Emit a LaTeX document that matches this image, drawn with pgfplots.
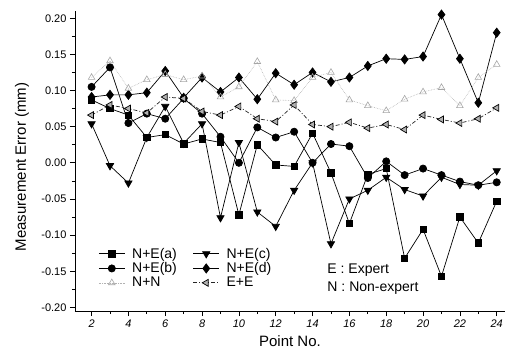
\documentclass[border=0pt]{standalone}
\usepackage{fontspec}
\setmainfont{Liberation Sans}
\usepackage{pgfplots}
\pgfplotsset{compat=1.18}
\begin{document}
\begin{tikzpicture}
\useasboundingbox (-75pt,-40pt) rectangle (430pt,311pt);
\begin{axis}[
  at={(0pt,0pt)}, anchor=south west,
  scale only axis, width=430pt, height=300pt,
  xmin=1.1, xmax=24.45, ymin=-0.205, ymax=0.21,
  axis lines=left, axis line style={-, line width=0.8pt},
  tick align=outside, major tick length=5pt, minor tick length=3pt,
  tick style={line width=0.7pt, black},
  xtick={2,4,...,24},
  xticklabels={2,4,6,8,10,12,14,16,18,20,22,24},
  ytick={-0.20,-0.15,-0.10,-0.05,0,0.05,0.10,0.15,0.20},
  yticklabels={-0.20,-0.15,-0.10,-0.05,0.00,0.05,0.10,0.15,0.20},
  minor x tick num=1, minor y tick num=1,
  xticklabel style={font=\fontsize{11}{13}\selectfont\itshape},
  yticklabel style={font=\fontsize{11}{13}\selectfont},
  xlabel={Point No.}, ylabel={Measurement Error (mm)},
  every axis x label/.style={at={(axis description cs:0.5,-0.1)}, anchor=center, font=\fontsize{15}{17}\selectfont},
  every axis y label/.style={at={(axis description cs:-0.123,0.48)}, anchor=center, rotate=90, font=\fontsize{15}{17}\selectfont},
  clip=false,
  legend columns=2,
  legend cell align=left,
  legend style={at={(axis cs:2.2,-0.112)}, anchor=north west, draw=none, fill=none,
    font=\fontsize{14}{16}\selectfont, column sep=0pt, row sep=-1pt,
    /tikz/every odd column/.append style={column sep=5pt},
    /tikz/every even column/.append style={column sep=14pt}},
  legend image code/.code={\draw[mark repeat=2,mark phase=2,#1] plot coordinates {(0pt,0pt) (13pt,0pt) (26pt,0pt)};},
]
% N+E(a)
\addplot[black, line width=0.7pt, mark=square*, mark size=3.2pt, mark options={solid}] coordinates {
(2,0.087)(3,0.075)(4,0.066)(5,0.035)(6,0.039)(7,0.026)(8,0.033)(9,0.028)(10,-0.072)(11,0.025)(12,-0.003)(13,-0.005)(14,0.041)(15,-0.014)(16,-0.084)(17,-0.016)(18,-0.008)(19,-0.132)(20,-0.092)(21,-0.157)(22,-0.075)(23,-0.111)(24,-0.053)};
\addlegendentry{N+E(a)}
% N+E(c)
\addplot[black, line width=0.7pt, mark=triangle*, mark size=4.2pt, mark options={solid, rotate=180}] coordinates {
(2,0.054)(3,-0.004)(4,-0.028)(5,0.035)(6,0.078)(7,0.027)(8,0.054)(9,-0.076)(10,0.028)(11,-0.068)(12,-0.088)(13,-0.038)(14,0.000)(15,-0.112)(16,-0.050)(17,-0.038)(18,-0.020)(19,-0.037)(20,-0.046)(21,-0.020)(22,-0.030)(23,-0.031)(24,-0.011)};
\addlegendentry{N+E(c)}
% N+E(b)
\addplot[black, line width=0.7pt, mark=*, mark size=3.6pt, mark options={solid}] coordinates {
(2,0.105)(3,0.132)(4,0.055)(5,0.068)(6,0.061)(7,0.089)(8,0.068)(9,0.036)(10,0.000)(11,0.049)(12,0.035)(13,0.043)(14,0.000)(15,0.026)(16,0.023)(17,-0.021)(18,0.002)(19,-0.017)(20,-0.008)(21,-0.017)(22,-0.026)(23,-0.031)(24,-0.027)};
\addlegendentry{N+E(b)}
% N+E(d)
\addplot[black, line width=0.7pt, mark=diamond*, mark size=4.6pt, mark options={solid}] coordinates {
(2,0.091)(3,0.094)(4,0.094)(5,0.097)(6,0.127)(7,0.090)(8,0.118)(9,0.098)(10,0.118)(11,0.088)(12,0.124)(13,0.108)(14,0.125)(15,0.112)(16,0.118)(17,0.134)(18,0.144)(19,0.143)(20,0.147)(21,0.205)(22,0.144)(23,0.083)(24,0.180)};
\addlegendentry{N+E(d)}
% N+N
\addplot[gray!60, line width=0.6pt, densely dotted, mark=triangle, mark size=3.8pt, mark options={solid, gray!70}] coordinates {
(2,0.118)(3,0.141)(4,0.103)(5,0.115)(6,0.122)(7,0.115)(8,0.120)(9,0.091)(10,0.105)(11,0.140)(12,0.087)(13,0.086)(14,0.118)(15,0.125)(16,0.087)(17,0.079)(18,0.072)(19,0.088)(20,0.098)(21,0.104)(22,0.079)(23,0.118)(24,0.136)};
\addlegendentry{N+N}
% E+E
\addplot[black!85, line width=0.7pt, dash pattern=on 4pt off 2pt on 1pt off 2pt, mark=triangle*, mark size=4pt, mark options={solid, rotate=90, draw=black, fill=gray!60}] coordinates {
(2,0.066)(3,0.080)(4,0.075)(5,0.069)(6,0.091)(7,0.089)(8,0.071)(9,0.066)(10,0.078)(11,0.061)(12,0.057)(13,0.080)(14,0.053)(15,0.050)(16,0.056)(17,0.048)(18,0.053)(19,0.046)(20,0.066)(21,0.060)(22,0.055)(23,0.061)(24,0.076)};
\addlegendentry{E+E}
\node[anchor=west, font=\fontsize{14}{16}\selectfont, inner sep=0pt] at (axis cs:14.8,-0.148) {E : Expert};
\node[anchor=west, font=\fontsize{14}{16}\selectfont, inner sep=0pt] at (axis cs:14.8,-0.173) {N : Non-expert};
\end{axis}
\end{tikzpicture}
\end{document}
